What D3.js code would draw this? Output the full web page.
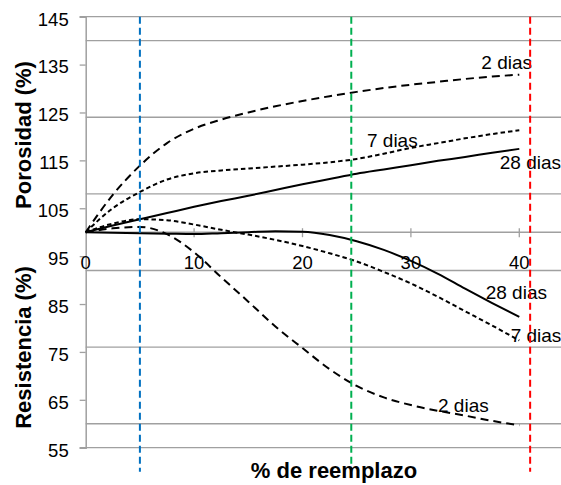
<!DOCTYPE html>
<html>
<head>
<meta charset="utf-8">
<script src="https://cdn.jsdelivr.net/npm/d3@7"></script>
<style>
  html, body { margin: 0; padding: 0; background: #fff; }
  svg { display: block; }
  text { font-family: "Liberation Sans", Arial, sans-serif; fill: #000; }
</style>
</head>
<body>
<svg id="chart" width="561" height="485"></svg>
<script>
// ---- data ----
const reemplazo = [0, 2.5, 5, 7.5, 10, 12.5, 15, 17.5, 20, 22.5, 25, 27.5, 30, 32.5, 35, 37.5, 40];
const porosidad2 = [100, 107.8, 113.9, 118.6, 121.6, 123.5, 125.0, 126.3, 127.4, 128.4, 129.3, 130.1, 130.8, 131.4, 132.0, 132.5, 132.9];
const porosidad7 = [100, 105.0, 108.4, 111.0, 112.3, 112.9, 113.3, 113.7, 114.1, 114.6, 115.3, 116.4, 117.6, 118.6, 119.6, 120.5, 121.3];
const porosidad28 = [100, 101.4, 102.7, 104.0, 105.3, 106.5, 107.6, 108.8, 110.0, 111.1, 112.2, 113.1, 114.0, 114.9, 115.7, 116.6, 117.4];
const resistencia2 = [100, 100.8, 101.1, 99.6, 95.8, 90.6, 85.5, 80.3, 75.8, 71.4, 67.9, 65.5, 63.9, 62.7, 61.7, 60.6, 59.7];
const resistencia7 = [100, 101.8, 102.7, 102.5, 101.6, 100.5, 99.5, 98.4, 97.1, 95.6, 93.9, 91.7, 89.3, 86.5, 83.5, 80.5, 77.4];
const resistencia28 = [100, 99.9, 99.8, 99.7, 99.6, 99.8, 100.0, 100.2, 100.1, 99.4, 98.1, 96.3, 94.0, 91.3, 88.2, 85.2, 82.3];
const yTicks = [55, 65, 75, 85, 95, 105, 115, 125, 135, 145];
const xTicks = [0, 10, 20, 30, 40];
const gridValues = [60, 76, 92, 108, 124, 140];
const limitValues = [5, 24.5, 41];
const limitColors = ["#0070C0", "#00B050", "#FF0000"];
const seriesNames = ["2 dias", "7 dias", "28 dias"];
// label anchors (x in %, y in %)
const labelX = [36.5, 25.95, 38.2, 36.9, 39.2, 32.5];
const labelY = [134.1, 117.8, 113.3, 86.0, 77.0, 62.5];

// ---- layout ----
const svg = d3.select("#chart");
const x = d3.scaleLinear().domain([0, 40]).range([85.7, 519.3]);
const y = d3.scaleLinear().domain([55, 145]).range([447.7, 16.7]);
const right = 561;
const grey = "#a0a0a0";

// horizontal grid lines
svg.append("g").selectAll("line").data(gridValues).join("line")
  .attr("x1", x(0)).attr("x2", right)
  .attr("y1", d => y(d)).attr("y2", d => y(d))
  .attr("stroke", grey).attr("stroke-width", 1.3);

// top and bottom frame lines
svg.append("g").selectAll("line").data([55, 145]).join("line")
  .attr("x1", x(0) - 6).attr("x2", right)
  .attr("y1", d => y(d)).attr("y2", d => y(d))
  .attr("stroke", grey).attr("stroke-width", 1.3);

// y axis
const yAxis = svg.append("g").attr("transform", `translate(${x(0)},0)`)
  .call(d3.axisLeft(y).tickValues(yTicks).tickSize(6).tickPadding(11).tickFormat(d3.format("d")));
yAxis.select(".domain").attr("stroke", grey).attr("stroke-width", 1.5);
yAxis.selectAll(".tick line").attr("stroke", grey).attr("stroke-width", 1.3);
yAxis.selectAll(".tick text")
  .attr("font-size", "18.5px").attr("fill", "#000")
  .attr("font-family", "Liberation Sans, Arial, sans-serif")
  .attr("dy", "0.45em");

// x axis at 100
const xAxisG = svg.append("g").attr("transform", `translate(0,${y(100)})`);
xAxisG.append("line").attr("x1", x(0)).attr("x2", right).attr("y1", 0).attr("y2", 0)
  .attr("stroke", grey).attr("stroke-width", 1.5);
xAxisG.selectAll("line.tk").data(xTicks.slice(1)).join("line").attr("class", "tk")
  .attr("x1", d => x(d)).attr("x2", d => x(d)).attr("y1", -4).attr("y2", 5)
  .attr("stroke", grey).attr("stroke-width", 1.3);
xAxisG.selectAll("text").data(xTicks).join("text")
  .attr("x", d => x(d)).attr("y", 37)
  .attr("text-anchor", "middle").attr("font-size", "18.5px")
  .text(d => d);

// curves
const line = d3.line().x((d, i) => x(reemplazo[i])).y(d => y(d)).curve(d3.curveMonotoneX);
const series = [
  { v: porosidad2, dash: "8,5" },
  { v: porosidad7, dash: "4.5,3" },
  { v: porosidad28, dash: null },
  { v: resistencia2, dash: "8,5" },
  { v: resistencia7, dash: "4.5,3" },
  { v: resistencia28, dash: null }
];
svg.append("g").selectAll("path").data(series).join("path")
  .attr("d", d => line(d.v))
  .attr("fill", "none").attr("stroke", "#000").attr("stroke-width", 2)
  .attr("stroke-dasharray", d => d.dash);

// series labels
const labelText = [seriesNames[0], seriesNames[1], seriesNames[2], seriesNames[2], seriesNames[1], seriesNames[0]];
svg.append("g").selectAll("text").data(labelText).join("text")
  .attr("x", (d, i) => x(labelX[i])).attr("y", (d, i) => y(labelY[i]))
  .attr("font-size", "19px")
  .text(d => d);

// vertical limit lines
svg.append("g").selectAll("line").data(limitValues).join("line")
  .attr("x1", d => x(d)).attr("x2", d => x(d))
  .attr("y1", y(145)).attr("y2", y(50))
  .attr("stroke", (d, i) => limitColors[i]).attr("stroke-width", 2)
  .attr("stroke-dasharray", "7,4");

// axis titles
svg.append("text")
  .attr("transform", `translate(31,135) rotate(-90)`)
  .attr("text-anchor", "middle").attr("font-size", "22px").attr("font-weight", "bold")
  .text("Porosidad (%)");
svg.append("text")
  .attr("transform", `translate(31,347.5) rotate(-90)`)
  .attr("text-anchor", "middle").attr("font-size", "22px").attr("font-weight", "bold")
  .text("Resistencia (%)");
svg.append("text")
  .attr("x", 334).attr("y", 478)
  .attr("text-anchor", "middle").attr("font-size", "22px").attr("font-weight", "bold")
  .text("% de reemplazo");
</script>
</body>
</html>
